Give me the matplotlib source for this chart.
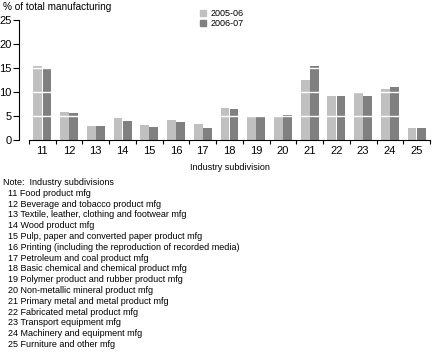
import numpy as np
import matplotlib
matplotlib.use('Agg')
import matplotlib.pyplot as plt
from matplotlib.patches import Rectangle

plt.rcParams['font.family'] = ['Liberation Sans', 'DejaVu Sans']

categories = ['11', '12', '13', '14', '15', '16', '17', '18', '19', '20', '21', '22', '23', '24', '25']
y2005 = [15.4, 5.9, 3.0, 4.5, 3.2, 4.2, 3.4, 6.7, 4.9, 4.9, 12.4, 9.2, 9.7, 10.7, 2.6]
y2006 = [15.1, 5.7, 3.0, 4.0, 2.8, 3.8, 2.6, 6.5, 4.9, 5.2, 15.4, 9.2, 9.2, 11.1, 2.4]
series_names = ['2005-06', '2006-07']
notes = [
    'Note:  Industry subdivisions',
    '  11 Food product mfg',
    '  12 Beverage and tobacco product mfg',
    '  13 Textile, leather, clothing and footwear mfg',
    '  14 Wood product mfg',
    '  15 Pulp, paper and converted paper product mfg',
    '  16 Printing (including the reproduction of recorded media)',
    '  17 Petroleum and coal product mfg',
    '  18 Basic chemical and chemical product mfg',
    '  19 Polymer product and rubber product mfg',
    '  20 Non-metallic mineral product mfg',
    '  21 Primary metal and metal product mfg',
    '  22 Fabricated metal product mfg',
    '  23 Transport equipment mfg',
    '  24 Machinery and equipment mfg',
    '  25 Furniture and other mfg',
]

light = '#c0c0c0'
dark = '#808080'

fig = plt.figure(figsize=(4.35, 3.59), dpi=100)
ax = fig.add_axes([29 / 435, 1 - 140 / 359, 401 / 435, 120 / 359])

x = np.arange(len(categories))
w = 0.33
ax.bar(x - 0.17, y2005, width=w, color=light, zorder=1)
ax.bar(x + 0.17, y2006, width=w, color=dark, zorder=1)

# white gridlines over the bars
for v in [5, 10, 15, 20]:
    ax.axhline(v, color='white', lw=1.0, zorder=2)

ax.set_xlim(-0.5, len(categories) - 0.5)
ax.set_ylim(0, 25)
ax.set_yticks([0, 5, 10, 15, 20, 25])
ax.set_xticks(x)
ax.set_xticklabels(categories, fontsize=8)
ax.set_xticks(np.arange(len(categories) + 1) - 0.5, minor=True)
ax.tick_params(axis='x', which='major', length=0, pad=4)
ax.tick_params(axis='x', which='minor', length=3, width=0.8, direction='out')
ax.tick_params(axis='y', labelsize=8, length=4, width=0.8, pad=1.5)

for s in ['top', 'right']:
    ax.spines[s].set_visible(False)
ax.spines['left'].set_position(('outward', 7))
ax.spines['left'].set_linewidth(0.8)
ax.spines['bottom'].set_linewidth(0.8)

ax.set_xlabel('Industry subdivision', fontsize=6.5, labelpad=5)

fig.text(3 / 435, 1 - 7 / 359, '% of total manufacturing', fontsize=7.2, va='center', ha='left')

# legend
for i, (name, col) in enumerate(zip(series_names, [light, dark])):
    yy = 13 + 10 * i
    fig.patches.append(Rectangle((200 / 435, 1 - (yy + 3) / 359), 6 / 435, 6 / 359,
                                 transform=fig.transFigure, color=col, figure=fig))
    fig.text(211 / 435, 1 - yy / 359, name, fontsize=6.5, va='center', ha='left')

for i, line in enumerate(notes):
    fig.text(3 / 435, 1 - (182.5 + 10.8 * i) / 359, line, fontsize=6.5, va='center', ha='left')

fig.savefig('out.png', dpi=100)
